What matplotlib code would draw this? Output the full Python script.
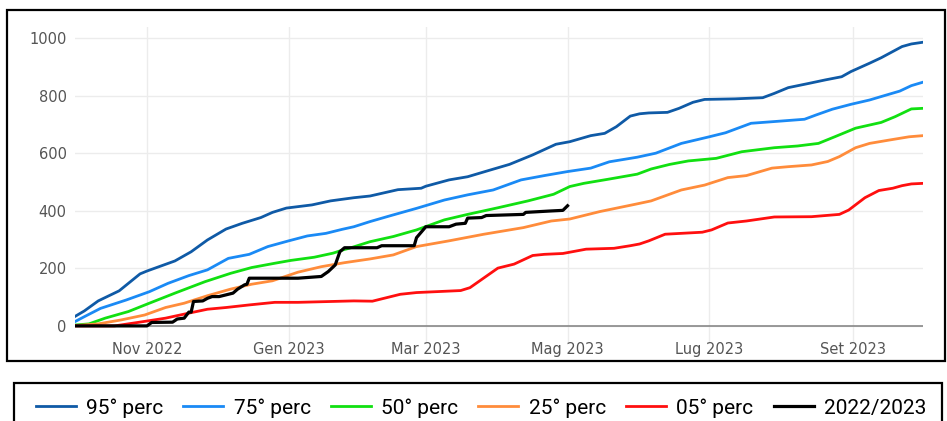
import matplotlib
matplotlib.use("Agg")
import matplotlib.pyplot as plt
from matplotlib.patches import Rectangle
from matplotlib import font_manager
import pandas as pd

# day of hydrological year (0 = 1 Oct 2022) and cumulative values
p95_days = [0, 4, 10, 19, 28, 31, 43, 50, 57, 65, 72, 80, 85, 91, 102, 110, 120, 127, 139, 149, 151,
            161, 169, 179, 187, 197, 207, 213, 222, 228, 233, 239, 243, 247, 255, 260, 266, 271, 284,
            296, 301, 307, 316, 323, 330, 334, 342, 347, 356, 360, 365]
p95_vals = [33, 52, 87, 122, 181, 191, 226, 258, 299, 337, 357, 377, 395, 410, 421, 435, 446, 452, 474,
            479, 486, 508, 519, 543, 562, 595, 632, 641, 662, 670, 693, 730, 738, 741, 743, 757, 778,
            788, 790, 794, 809, 829, 844, 856, 867, 885, 914, 933, 972, 981, 987]

p75_days = [0, 4, 11, 22, 32, 40, 49, 57, 66, 75, 83, 92, 100, 108, 115, 120, 127, 136, 147, 159, 169,
            180, 192, 202, 212, 222, 230, 242, 250, 261, 273, 280, 286, 291, 301, 314, 319, 326, 334,
            342, 347, 355, 360, 365]
p75_vals = [15, 32, 61, 90, 119, 148, 175, 195, 235, 249, 276, 296, 313, 322, 336, 345, 363, 384, 409,
            438, 456, 473, 508, 523, 537, 549, 571, 587, 601, 635, 658, 672, 690, 705, 711, 719, 734,
            754, 771, 786, 798, 817, 836, 848]

p50_days = [0, 6, 13, 23, 32, 43, 56, 67, 76, 86, 93, 103, 111, 116, 118, 127, 137, 147, 159, 169, 182,
            195, 206, 213, 219, 230, 242, 248, 256, 264, 276, 287, 301, 311, 320, 327, 336, 347, 353,
            360, 365]
p50_vals = [3, 7, 27, 50, 79, 114, 154, 183, 203, 218, 228, 239, 253, 266, 270, 293, 311, 334, 369, 388,
            411, 435, 458, 485, 496, 511, 528, 546, 562, 574, 583, 606, 620, 626, 635, 658, 688, 708,
            728, 755, 757]

p25_days = [0, 10, 20, 30, 39, 47, 57, 67, 76, 85, 96, 106, 116, 127, 137, 147, 161, 176, 193, 205, 213,
            226, 241, 248, 261, 271, 281, 289, 300, 307, 317, 324, 329, 336, 342, 350, 359, 365]
p25_vals = [1, 7, 21, 38, 64, 79, 105, 128, 145, 157, 187, 206, 220, 233, 247, 276, 296, 319, 342, 365,
            372, 398, 423, 435, 473, 490, 516, 523, 549, 554, 560, 572, 589, 620, 635, 646, 658, 662]

p05_days = [0, 17, 27, 39, 47, 57, 65, 75, 86, 96, 120, 128, 140, 147, 166, 170, 182, 189, 197, 202,
            210, 220, 232, 239, 243, 247, 254, 270, 274, 281, 289, 301, 317, 329, 333, 340, 346, 352,
            356, 360, 365]
p05_vals = [0, 0, 12, 27, 41, 58, 64, 73, 82, 82, 87, 86, 110, 116, 123, 133, 201, 215, 245, 249, 252,
            267, 270, 279, 285, 296, 319, 326, 334, 358, 365, 379, 380, 388, 403, 446, 471, 479, 488,
            494, 496]

cur_days = [0, 31, 33, 42, 44, 47, 49, 50, 51, 55, 57, 59, 62, 66, 68, 70, 73, 74, 75, 96, 106, 109,
            112, 114, 116, 130, 132, 146, 147, 149, 151, 161, 164, 168, 169, 175, 177, 193, 194, 205,
            210, 212]
cur_vals = [0, 0, 12, 13, 24, 27, 48, 48, 85, 87, 96, 102, 102, 110, 114, 128, 143, 145, 166, 166, 172,
            189, 212, 258, 272, 272, 279, 279, 307, 326, 345, 345, 354, 357, 375, 377, 384, 388, 395,
            400, 402, 418]

series = [
    ("95° perc", p95_days, p95_vals, "#0f5aa6", 2.0),
    ("75° perc", p75_days, p75_vals, "#1a8af5", 2.0),
    ("50° perc", p50_days, p50_vals, "#11e011", 2.0),
    ("25° perc", p25_days, p25_vals, "#ff8c3b", 2.0),
    ("05° perc", p05_days, p05_vals, "#ff0f0f", 2.0),
    ("2022/2023", cur_days, cur_vals, "#000000", 2.3),
]

tick_dates = ["2022-11-01", "2023-01-01", "2023-03-01", "2023-05-01", "2023-07-01", "2023-09-01"]
tick_labels = ["Nov 2022", "Gen 2023", "Mar 2023", "Mag 2023", "Lug 2023", "Set 2023"]
y_ticks = [0, 200, 400, 600, 800, 1000]

start = pd.Timestamp("2022-10-01")

names = {f.name for f in font_manager.fontManager.ttflist}
legend_font = "Liberation Sans Narrow" if "Liberation Sans Narrow" in names else "Roboto"

W, H = 947, 421
fig = plt.figure(figsize=(W / 100, H / 100), dpi=100)
ax = fig.add_axes([75 / W, 1 - 342 / H, 848 / W, 315 / H])

handles = []
for name, days, vals, color, lw in series:
    x = start + pd.to_timedelta(days, unit="D")
    ln, = ax.plot(x, vals, color=color, lw=lw, label=name, solid_joinstyle="round")
    handles.append(ln)

ax.set_xlim(start, pd.Timestamp("2023-10-01"))
ax.set_ylim(-56, 1040)
ax.set_xticks(pd.to_datetime(tick_dates))
ax.set_xticklabels(tick_labels)
ax.set_yticks(y_ticks)
ax.grid(True, color="#ececec", lw=1)
ax.set_axisbelow(True)
ax.axhline(0, color="#888888", lw=1.2, zorder=1.5)
for s in ax.spines.values():
    s.set_visible(False)
ax.tick_params(length=0, colors="#555555", labelsize=10.5)
ax.tick_params(axis="y", pad=6)
ax.tick_params(axis="x", pad=0)

# frame around the chart and around the legend
fig.patches.append(Rectangle((7 / W, 1 - 361 / H), 938 / W, 351 / H, transform=fig.transFigure,
                             fill=False, edgecolor="black", lw=1.6))
fig.patches.append(Rectangle((14 / W, -0.02), 928 / W, 1 - 383 / H + 0.02, transform=fig.transFigure,
                             fill=False, edgecolor="black", lw=1.6))

fig.legend(handles=handles, loc="center", bbox_to_anchor=(481 / W, 1 - 408 / H), ncol=6,
           frameon=False, handlelength=1.92, handletextpad=0.5, columnspacing=0.96,
           prop={"family": legend_font, "size": 15})

fig.savefig("out.png", dpi=100)
